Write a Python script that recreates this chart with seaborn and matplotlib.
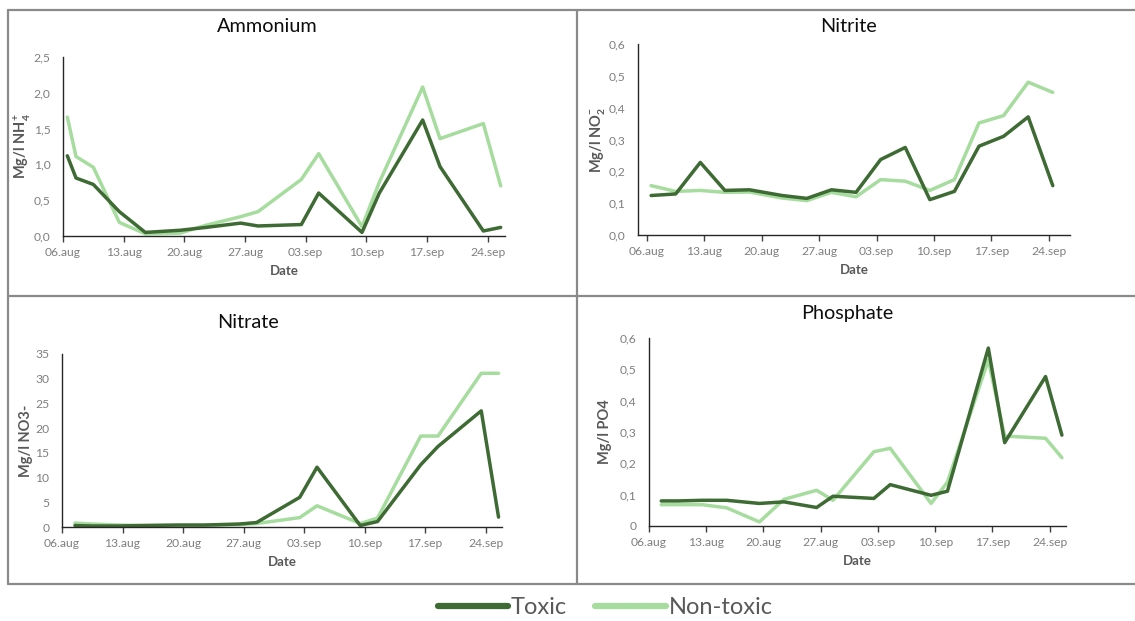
import numpy as np
import pandas as pd
import matplotlib
matplotlib.use("Agg")
import matplotlib.pyplot as plt
from matplotlib.lines import Line2D
import seaborn as sns

# ---------------- data ----------------
start = "2018-08-06"
tick_labels = ["06.aug", "13.aug", "20.aug", "27.aug", "03.sep", "10.sep", "17.sep", "24.sep"]

amm_days = [0, 1, 3, 6, 9, 13, 16, 20, 22, 27, 29, 34, 36, 41, 43, 48, 50]
amm_toxic = [1.12, 0.81, 0.72, 0.34, 0.05, 0.08, 0.12, 0.18, 0.14, 0.16, 0.60, 0.05, 0.60, 1.62, 0.97, 0.07, 0.12]
amm_non = [1.66, 1.11, 0.96, 0.19, 0.03, 0.04, 0.15, 0.27, 0.34, 0.79, 1.15, 0.13, 0.75, 2.08, 1.36, 1.57, 0.70]

nit_days = [0, 3, 6, 9, 12, 16, 19, 22, 25, 28, 31, 34, 37, 40, 43, 46, 49]
nit_toxic = [0.124, 0.129, 0.228, 0.140, 0.142, 0.124, 0.115, 0.142, 0.134, 0.237, 0.275, 0.111, 0.137, 0.279, 0.310, 0.371, 0.155]
nit_non = [0.155, 0.137, 0.140, 0.134, 0.135, 0.116, 0.108, 0.134, 0.120, 0.174, 0.169, 0.140, 0.174, 0.352, 0.375, 0.480, 0.448]

nat_days = [1, 3, 6, 9, 13, 16, 20, 22, 27, 29, 34, 36, 41, 43, 48, 50]
nat_toxic = [0.3, 0.2, 0.2, 0.3, 0.4, 0.4, 0.6, 0.9, 6.0, 12.1, 0.3, 1.1, 12.6, 16.3, 23.5, 2.0]
nat_non = [0.8, 0.6, 0.4, 0.3, 0.3, 0.3, 0.5, 0.7, 1.9, 4.3, 0.7, 1.8, 18.4, 18.4, 31.1, 31.1]

pho_days = [1, 3, 6, 9, 13, 16, 20, 22, 27, 29, 34, 36, 41, 43, 48, 50]
pho_toxic = [0.080, 0.080, 0.082, 0.082, 0.072, 0.077, 0.059, 0.095, 0.088, 0.132, 0.098, 0.111, 0.568, 0.266, 0.477, 0.290]
pho_non = [0.068, 0.068, 0.068, 0.058, 0.013, 0.085, 0.114, 0.082, 0.237, 0.248, 0.072, 0.140, 0.530, 0.287, 0.280, 0.218]

series_names = ["Toxic", "Non-toxic"]

# ---------------- style ----------------
sns.set_theme(style="white")
plt.rcParams["font.family"] = ["Lato", "DejaVu Sans"]
plt.rcParams["mathtext.fontset"] = "custom"
plt.rcParams["mathtext.rm"] = "Lato"
plt.rcParams["mathtext.bf"] = "Lato:bold"

DARK = "#3e6a34"
LIGHT = "#a6dc9e"
palette = {"Toxic": DARK, "Non-toxic": LIGHT}
GRAY_TXT = "#7f7f7f"
LABEL_TXT = "#595959"

W, H = 1135, 621
fig = plt.figure(figsize=(W / 100, H / 100), dpi=100)


def ax_at(left, right, top, bottom):
    return fig.add_axes([left / W, 1 - bottom / H, (right - left) / W, (bottom - top) / H])


t0 = pd.Timestamp(start)
half = pd.Timedelta(hours=12)
tick_dates = [t0 + pd.Timedelta(days=7 * i) for i in range(len(tick_labels))]


def make_df(days, tox, non):
    d = [t0 + pd.Timedelta(days=x) + half for x in days]
    return pd.DataFrame({
        "Date": d + d,
        "Value": list(tox) + list(non),
        "Type": [series_names[0]] * len(d) + [series_names[1]] * len(d),
    })


panels = [
    dict(title="Ammonium", box=(63, 505, 57, 236), title_xy=(267, 27),
         days=amm_days, tox=amm_toxic, non=amm_non, xlim=(0, 51),
         ylim=(0, 2.5), yticks=np.arange(0, 2.51, 0.5),
         yfmt=lambda v: f"{v:.1f}".replace(".", ","),
         ylabel=r"Mg/l NH$_\mathbf{4}^\mathbf{+}$", ylab_right=33),
    dict(title="Nitrite", box=(638, 1070, 44, 235), title_xy=(848, 26),
         days=nit_days, tox=nit_toxic, non=nit_non, xlim=(-1.1, 51.6),
         ylim=(0, 0.6), yticks=np.arange(0, 0.61, 0.1),
         yfmt=lambda v: f"{v:.1f}".replace(".", ","),
         ylabel=r"Mg/l NO$_\mathbf{2}^\mathbf{-}$", ylab_right=608),
    dict(title="Nitrate", box=(62, 502, 354, 527), title_xy=(248, 322),
         days=nat_days, tox=nat_toxic, non=nat_non, xlim=(0, 50.9),
         ylim=(0, 35), yticks=np.arange(0, 36, 5),
         yfmt=lambda v: f"{v:.0f}",
         ylabel="Mg/l NO3-", ylab_right=33),
    dict(title="Phosphate", box=(649, 1066, 338, 526), title_xy=(847, 313),
         days=pho_days, tox=pho_toxic, non=pho_non, xlim=(0, 51),
         ylim=(0, 0.6), yticks=np.arange(0, 0.61, 0.1),
         yfmt=lambda v: "0" if v == 0 else f"{v:.1f}".replace(".", ","),
         ylabel="Mg/l PO4", ylab_right=612),
]

for p in panels:
    l, r, t, b = p["box"]
    ax = ax_at(l, r, t, b)
    df = make_df(p["days"], p["tox"], p["non"])
    sns.lineplot(data=df, x="Date", y="Value", hue="Type",
                 hue_order=["Non-toxic", "Toxic"], palette=palette,
                 linewidth=2.5, ax=ax, legend=False)
    ax.set_xlim(t0 + pd.Timedelta(days=p["xlim"][0]), t0 + pd.Timedelta(days=p["xlim"][1]))
    ax.set_ylim(*p["ylim"])
    ax.set_xticks(tick_dates)
    ax.set_xticklabels(tick_labels)
    ax.set_yticks(p["yticks"])
    ax.set_yticklabels([p["yfmt"](v) for v in p["yticks"]])
    ax.tick_params(axis="x", length=4, width=1, color="#404040", pad=4,
                   labelsize=8.7, labelcolor=GRAY_TXT, bottom=True, direction="out")
    ax.tick_params(axis="y", length=0, pad=9, labelsize=8.7, labelcolor=GRAY_TXT)
    for s in ["top", "right"]:
        ax.spines[s].set_visible(False)
    for s in ["left", "bottom"]:
        ax.spines[s].set_color("#262626")
        ax.spines[s].set_linewidth(1.0)
    ax.set_xlabel("Date", fontsize=9.5, fontweight="bold", color=LABEL_TXT, labelpad=5)
    ax.set_ylabel(p["ylabel"], fontsize=10.5, fontweight="bold", color=LABEL_TXT)
    ax.yaxis.set_label_coords((p["ylab_right"] - l) / (r - l), 0.5)
    ax.patch.set_alpha(0)
    fig.text(p["title_xy"][0] / W, 1 - p["title_xy"][1] / H, p["title"],
             fontsize=14.3, color="#0d0d0d", ha="center", va="center")

# panel borders
BCOL = "#8a8a8a"
def fline(x0, y0, x1, y1):
    fig.add_artist(Line2D([x0 / W, x1 / W], [1 - y0 / H, 1 - y1 / H],
                          color=BCOL, linewidth=1.6, transform=fig.transFigure))

fline(8, 10, 1135, 10)
fline(8, 10, 8, 584)
fline(8, 584, 1135, 584)
fline(577, 10, 577, 584)
fline(8, 296, 1135, 296)

# legend
handles = [Line2D([0], [0], color=palette[n], linewidth=4.5) for n in series_names]
leg = fig.legend(handles, series_names, loc="center", bbox_to_anchor=(605 / W, 1 - 608 / H),
                 ncol=2, frameon=False, fontsize=17, handlelength=3.0, handletextpad=0.1,
                 columnspacing=1.2, borderpad=0)
for t in leg.get_texts():
    t.set_color(LABEL_TXT)

fig.savefig("out.png", dpi=100)
